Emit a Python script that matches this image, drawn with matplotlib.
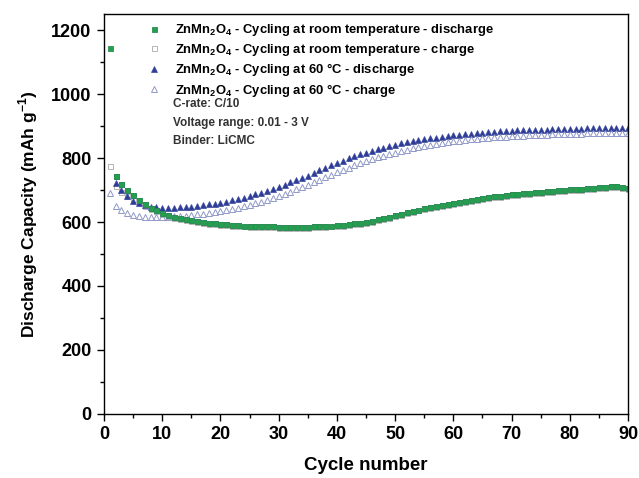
"""
Cycling of ZnMn2O4 electrodes at room temperature and at 60 C
"""

import numpy as np
import matplotlib
matplotlib.use("Agg")
import matplotlib.pyplot as plt
import matplotlib.ticker as ticker

plt.rcParams['font.family'] = ['Liberation Sans', 'DejaVu Sans']
plt.rcParams['mathtext.fontset'] = 'custom'
plt.rcParams['mathtext.rm'] = 'Liberation Sans'
plt.rcParams['mathtext.bf'] = 'Liberation Sans:bold'

# room temperature, cycles 1-90
rt_discharge = [1145, 745, 718, 700, 685, 670, 655, 645, 636, 628,
                622, 617, 613, 609, 606, 603, 600, 598, 596, 594,
                593, 591, 590, 589, 588, 587, 587, 586, 586, 585,
                585, 584, 585, 585, 585, 586, 586, 588, 589, 590,
                592, 594, 596, 598, 601, 604, 608, 612, 616, 621,
                626, 630, 635, 639, 643, 647, 651, 654, 657, 660,
                663, 666, 669, 672, 675, 677, 680, 682, 684, 686,
                688, 690, 692, 693, 695, 697, 698, 699, 701, 702,
                703, 704, 706, 707, 708, 710, 711, 712, 710, 706]
rt_charge = [775, 712, 695, 682, 672, 662, 650, 641, 633, 625,
             619, 614, 610, 606, 603, 600, 597, 595, 593, 591,
             590, 588, 587, 586, 585, 584, 584, 583, 583, 582,
             582, 581, 582, 582, 582, 583, 583, 585, 586, 587,
             589, 591, 593, 595, 598, 601, 605, 609, 613, 618,
             623, 627, 632, 636, 640, 644, 648, 651, 654, 657,
             660, 663, 666, 669, 672, 674, 677, 679, 681, 683,
             685, 687, 689, 690, 692, 694, 695, 696, 698, 699,
             700, 701, 703, 704, 705, 707, 708, 709, 707, 703]

# 60 C, discharge from cycle 2, charge from cycle 1
hot_discharge = [723, 700, 680, 667, 658, 652, 648, 646, 645,
                 645, 645, 646, 647, 648, 650, 652, 655, 657, 660,
                 664, 668, 672, 676, 681, 686, 692, 698, 704, 710,
                 717, 724, 731, 738, 745, 753, 761, 769, 777, 785,
                 792, 799, 805, 811, 817, 822, 827, 832, 837, 842,
                 846, 850, 853, 856, 859, 862, 864, 867, 869, 871,
                 873, 874, 876, 877, 879, 880, 881, 883, 884, 885,
                 886, 887, 887, 888, 889, 889, 890, 890, 891, 891,
                 892, 892, 893, 893, 893, 894, 894, 894, 895, 895]
hot_charge = [692, 651, 636, 627, 621, 618, 616, 615, 615, 616,
              617, 618, 619, 620, 622, 624, 626, 628, 631, 634,
              637, 641, 645, 649, 654, 659, 664, 670, 676, 682,
              688, 695, 702, 709, 716, 724, 732, 740, 748, 756,
              763, 770, 777, 784, 790, 796, 802, 807, 812, 817,
              822, 826, 830, 834, 838, 841, 844, 847, 850, 852,
              854, 856, 858, 860, 862, 863, 865, 866, 867, 868,
              869, 870, 871, 872, 872, 873, 874, 874, 875, 875,
              876, 876, 877, 877, 877, 878, 878, 878, 879, 879]

cyc_rt = np.arange(1, len(rt_discharge) + 1)
cyc_hot_d = np.arange(2, len(hot_discharge) + 2)
cyc_hot_c = np.arange(1, len(hot_charge) + 1)

name = r"ZnMn$_\mathbf{2}$O$_\mathbf{4}$"
labels = [name + " - Cycling at room temperature - discharge",
          name + " - Cycling at room temperature - charge",
          name + " - Cycling at 60 \u00b0C - discharge",
          name + " - Cycling at 60 \u00b0C - charge"]

fig = plt.figure(figsize=(6.39, 4.78), dpi=100)
ax1 = fig.add_axes([0.1628, 0.1339, 0.82, 0.8368])

ax1.plot(cyc_rt, rt_discharge, 's', ms=3.6, mfc='#22a04e', mec='#2c8a55',
         mew=0.6, label=labels[0])
ax1.plot(cyc_rt, rt_charge, 's', ms=3.6, mfc='none', mec='#b4b4b4',
         mew=0.7, label=labels[1])
ax1.plot(cyc_hot_d, hot_discharge, '^', ms=4.6, mfc='#2e3c96', mec='#3a4aa0',
         mew=0.5, label=labels[2])
ax1.plot(cyc_hot_c, hot_charge, '^', ms=4.6, mfc='none', mec='#8f98c8',
         mew=0.7, label=labels[3])

# rt charge sits almost on top of discharge, redraw discharge above it
ax1.plot(cyc_rt[1:], rt_discharge[1:], 's', ms=3.6, mfc='#22a04e',
         mec='#2c8a55', mew=0.6)

ax1.set_xlim(0, 90)
ax1.set_ylim(0, 1250)
ax1.xaxis.set_major_locator(ticker.MultipleLocator(10))
ax1.xaxis.set_minor_locator(ticker.MultipleLocator(5))
ax1.yaxis.set_major_locator(ticker.FixedLocator([0, 200, 400, 600, 800, 1000, 1200]))
ax1.yaxis.set_minor_locator(ticker.FixedLocator([100, 300, 500, 700, 900, 1100]))
ax1.tick_params(which='both', direction='out', top=False, right=False,
                width=1.0)
ax1.tick_params(which='major', length=5, labelsize=13, pad=4)
ax1.tick_params(which='minor', length=3)
for lab in ax1.get_xticklabels() + ax1.get_yticklabels():
    lab.set_fontweight('bold')
for sp in ax1.spines.values():
    sp.set_linewidth(1.0)

ax1.set_xlabel("Cycle number", fontsize=13.5, fontweight='bold', labelpad=10)
ax1.set_ylabel(r"Discharge Capacity (mAh g$^\mathbf{-1}$)", fontsize=12.5,
               fontweight='bold', labelpad=8)

ax1.legend(loc='upper left', bbox_to_anchor=(0.068, 1.0), frameon=False,
           handlelength=1.0, handletextpad=1.05, labelspacing=0.28,
           borderaxespad=0.22, prop={'size': 9.4, 'weight': 'bold'})

notes = ["C-rate: C/10", "Voltage range: 0.01 - 3 V", "Binder: LiCMC"]
for i, t in enumerate(notes):
    ax1.text(0.1317, 0.775 - i * 0.0465, t, transform=ax1.transAxes,
             fontsize=8.5, fontweight='bold', color='#333333', va='center')

fig.savefig("out.png", dpi=100)
